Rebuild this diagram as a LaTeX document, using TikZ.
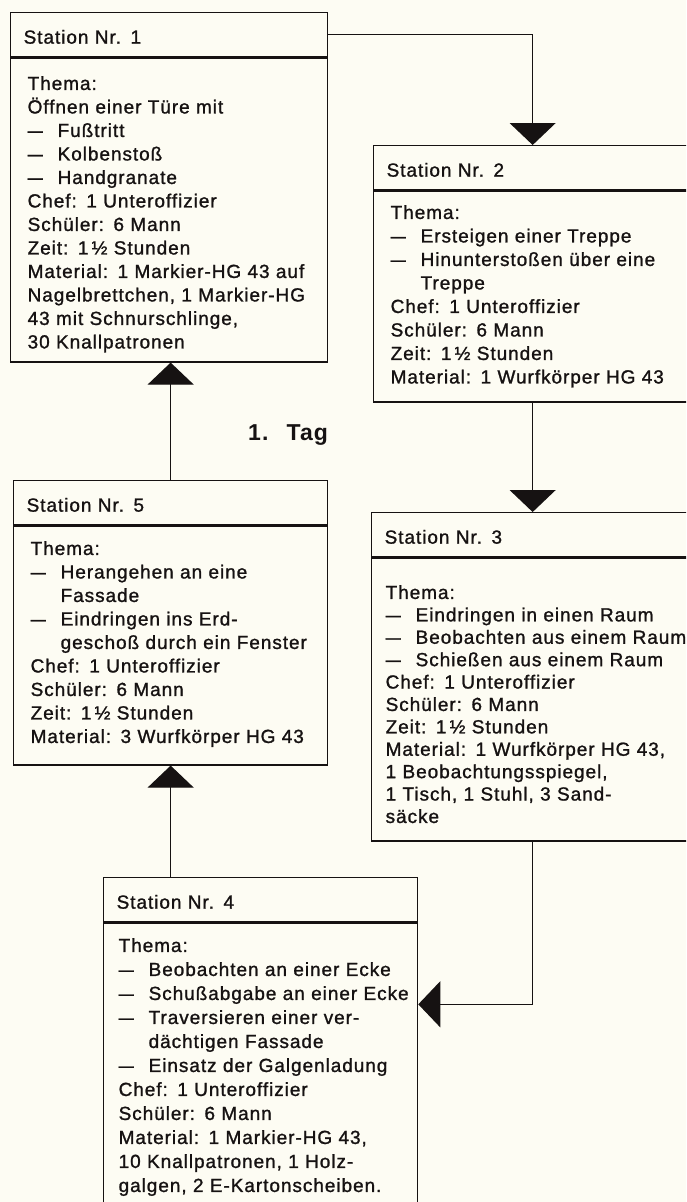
\documentclass[tikz,border=0pt]{standalone}
\usepackage{fontspec}
\setmainfont{Liberation Sans}[LetterSpace=5, UprightFeatures={FakeBold=1.2}]
\usepackage{tikz}
\usetikzlibrary{arrows.meta, positioning, calc}

\definecolor{papier}{RGB}{253,252,243}
\definecolor{tinte}{RGB}{22,18,18}

% Spiegelstrich und Einzug fuer Folgezeilen
\newcommand{\strich}{\makebox[30pt][l]{\scalebox{0.8}[1]{—}}}
\newcommand{\weiter}{\hspace*{30pt}}
\newcommand{\zeilen}[1]{\begin{tabular}[t]{@{}l@{}}#1\end{tabular}}

\begin{document}
\begin{tikzpicture}[
    x=1pt, y=-1pt,
    color=tinte,
    font=\fontsize{19}{23.5}\selectfont,
    kopf/.style={draw, line width=1.3pt, anchor=north west, inner xsep=13pt, inner ysep=0pt,
                 text height=31pt, text depth=13pt},
    rumpf/.style={draw, line width=1.3pt, anchor=north, inner xsep=17pt, inner ysep=0pt, align=left},
    pfeil/.style={line width=1.2pt, -{Triangle[width=46pt, length=22pt]}},
    tag/.style={font=\fontsize{23}{27}\selectfont\bfseries, inner sep=0pt}
]

% --- HINTERGRUND ---
\fill[papier, use as bounding box] (0,0) rectangle (686,1202);
\clip (0,0) rectangle (686,1202);

% --- STATION 1 ---
\node[kopf, text width=291pt] (s1h) at (10,12) {Station Nr. 1};
\node[rumpf, text width=283pt, text height=32pt, text depth=272pt] (s1) at (s1h.south) {\zeilen{%
  Thema:\\
  Öffnen einer Türe mit\\
  \strich Fußtritt\\
  \strich Kolbenstoß\\
  \strich Handgranate\\
  Chef: 1 Unteroffizier\\
  Schüler: 6 Mann\\
  Zeit: 1\,½ Stunden\\
  Material: 1 Markier-HG 43 auf\\
  Nagelbrettchen, 1 Markier-HG\\
  43 mit Schnurschlinge,\\
  30 Knallpatronen}};

% --- STATION 2 ---
\node[kopf, text width=292pt] (s2h) at (373,145) {Station Nr. 2};
\node[rumpf, text width=284pt, text height=28pt, text depth=183pt] (s2) at (s2h.south) {\zeilen{%
  Thema:\\
  \strich Ersteigen einer Treppe\\
  \strich Hinunterstoßen über eine\\
  \weiter Treppe\\
  Chef: 1 Unteroffizier\\
  Schüler: 6 Mann\\
  Zeit: 1\,½ Stunden\\
  Material: 1 Wurfkörper HG 43}};

% --- STATION 3 ---
\node[kopf, text width=296pt] (s3h) at (371,512) {Station Nr. 3};
\node[rumpf, inner xsep=14pt, text width=294pt, text height=41pt, text depth=242pt,
      font=\fontsize{19}{22.4}\selectfont] (s3) at (s3h.south) {\zeilen{%
  Thema:\\
  \strich Eindringen in einen Raum\\
  \strich Beobachten aus einem Raum\\
  \strich Schießen aus einem Raum\\
  Chef: 1 Unteroffizier\\
  Schüler: 6 Mann\\
  Zeit: 1\,½ Stunden\\
  Material: 1 Wurfkörper HG 43,\\
  1 Beobachtungsspiegel,\\
  1 Tisch, 1 Stuhl, 3 Sand-\\
  säcke}};

% --- STATION 4 ---
\node[kopf, text width=288pt] (s4h) at (103,877) {Station Nr. 4};
\node[rumpf, inner xsep=15pt, text width=284pt, text height=29pt, text depth=262pt,
      font=\fontsize{19}{24}\selectfont] (s4) at (s4h.south) {\zeilen{%
  Thema:\\
  \strich Beobachten an einer Ecke\\
  \strich Schußabgabe an einer Ecke\\
  \strich Traversieren einer ver-\\
  \weiter dächtigen Fassade\\
  \strich Einsatz der Galgenladung\\
  Chef: 1 Unteroffizier\\
  Schüler: 6 Mann\\
  Material: 1 Markier-HG 43,\\
  10 Knallpatronen, 1 Holz-\\
  galgen, 2 E-Kartonscheiben.}};
\coordinate[below=82pt of s4h.south east] (s4ein);

% --- STATION 5 ---
\node[kopf, text width=288pt] (s5h) at (13,480) {Station Nr. 5};
\node[rumpf, text width=280pt, text height=29pt, text depth=210pt] (s5) at (s5h.south) {\zeilen{%
  Thema:\\
  \strich Herangehen an eine\\
  \weiter Fassade\\
  \strich Eindringen ins Erd-\\
  \weiter geschoß durch ein Fenster\\
  Chef: 1 Unteroffizier\\
  Schüler: 6 Mann\\
  Zeit: 1\,½ Stunden\\
  Material: 3 Wurfkörper HG 43}};

% --- TAG ---
\node[tag, anchor=base west] (tag) at (248,440) {1.\hspace{18pt}Tag};

% --- ABLAUF ---
\draw[pfeil] (s1h.east) -| (s2h.north);
\draw[pfeil] (s2.south) -- (s3h.north);
\draw[pfeil] (s3.south) |- (s4ein);
\draw[pfeil] (s5.south |- s4h.north) -- (s5.south);
\draw[pfeil] (s5h.north) -- (s5h.north |- s1.south);

\end{tikzpicture}
\end{document}
